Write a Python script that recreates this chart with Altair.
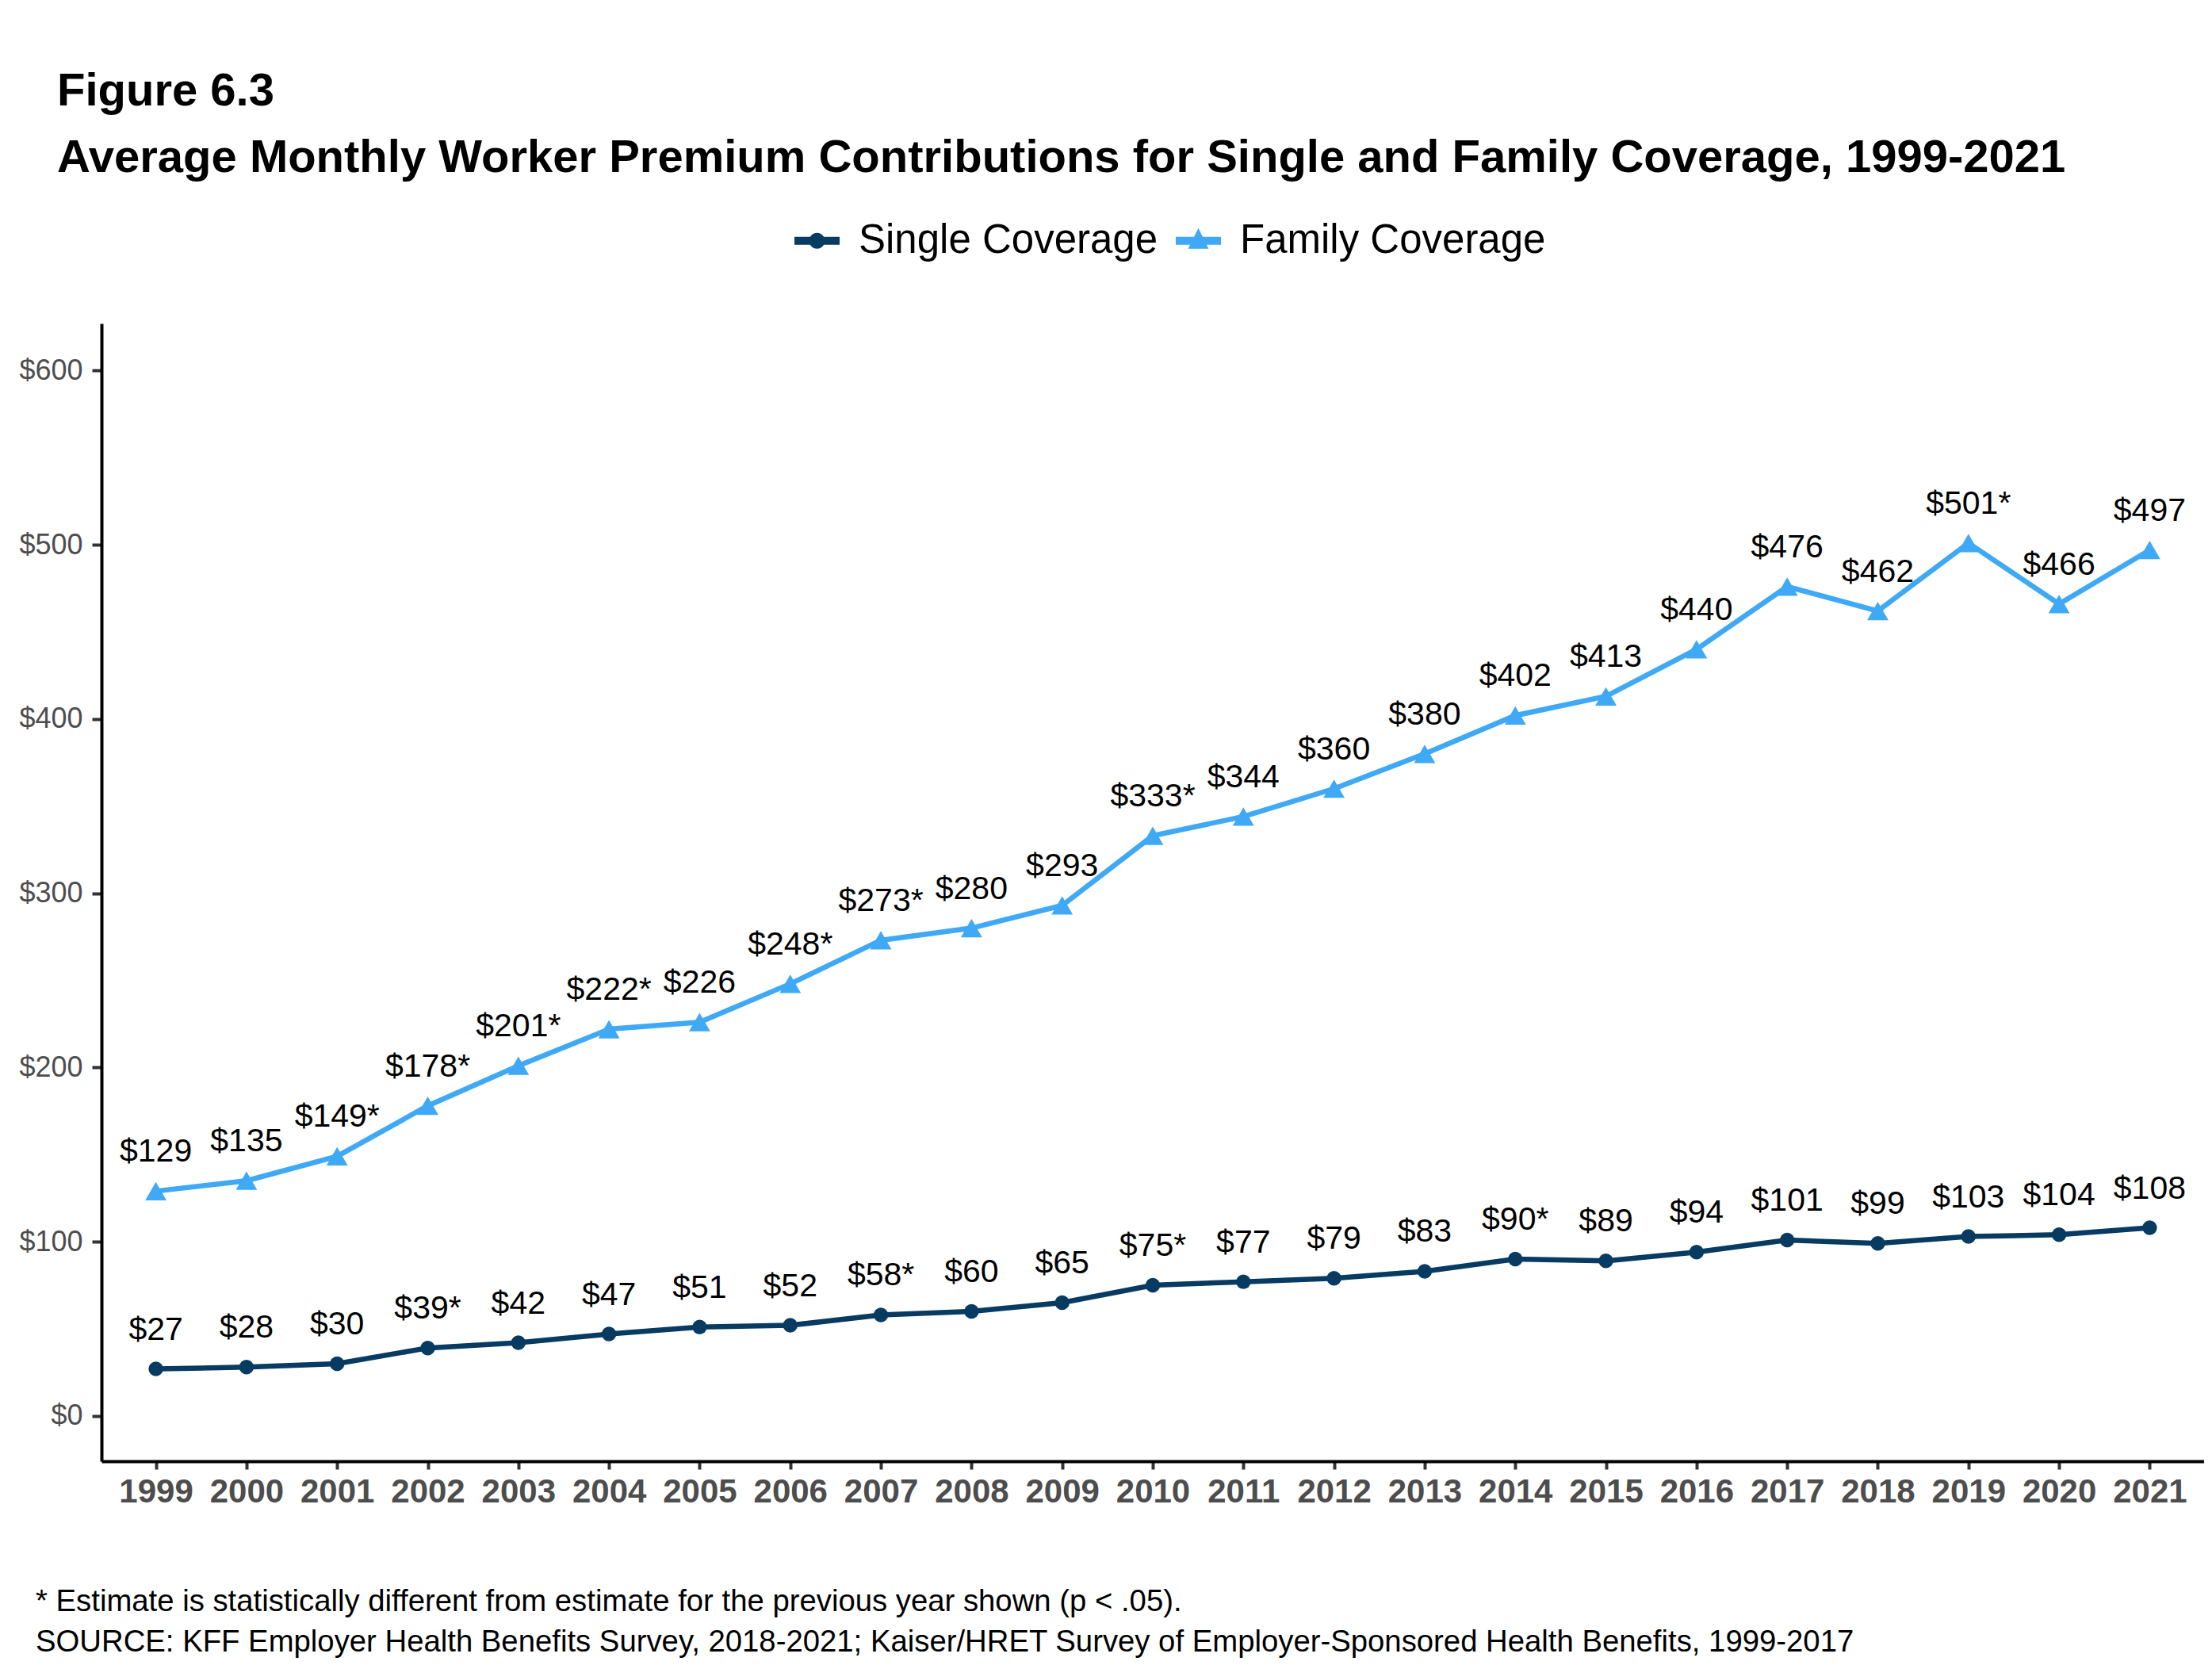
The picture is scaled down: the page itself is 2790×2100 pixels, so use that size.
import altair as alt
import pandas as pd

years = list(range(1999, 2022))
series_names = ["Single Coverage", "Family Coverage"]
colors = ["#073b62", "#3fa9f5"]

single_values = [27, 28, 30, 39, 42, 47, 51, 52, 58, 60, 65, 75, 77, 79, 83, 90, 89, 94, 101, 99, 103, 104, 108]
single_labels = ["$27", "$28", "$30", "$39*", "$42", "$47", "$51", "$52", "$58*", "$60", "$65", "$75*",
                 "$77", "$79", "$83", "$90*", "$89", "$94", "$101", "$99", "$103", "$104", "$108"]
family_values = [129, 135, 149, 178, 201, 222, 226, 248, 273, 280, 293, 333, 344, 360, 380, 402, 413,
                 440, 476, 462, 501, 466, 497]
family_labels = ["$129", "$135", "$149*", "$178*", "$201*", "$222*", "$226", "$248*", "$273*", "$280",
                 "$293", "$333*", "$344", "$360", "$380", "$402", "$413", "$440", "$476", "$462",
                 "$501*", "$466", "$497"]

y_ticks = [0, 100, 200, 300, 400, 500, 600]

title_text = "Figure 6.3"
subtitle_text = "Average Monthly Worker Premium Contributions for Single and Family Coverage, 1999-2021"
note_text = "* Estimate is statistically different from estimate for the previous year shown (p < .05)."
source_text = "SOURCE: KFF Employer Health Benefits Survey, 2018-2021; Kaiser/HRET Survey of Employer-Sponsored Health Benefits, 1999-2017"

rows = []
for y, v, l in zip(years, single_values, single_labels):
    rows.append({"year": y, "value": v, "label": l, "series": series_names[0]})
for y, v, l in zip(years, family_values, family_labels):
    rows.append({"year": y, "value": v, "label": l, "series": series_names[1]})
df = pd.DataFrame(rows)

FONT = "Liberation Sans"
W, H = 2652, 1435

x_enc = alt.X("year:Q", scale=alt.Scale(domain=[1998.4, 2021.6], nice=False, zero=False),
              axis=alt.Axis(values=years, format="d", title=None, labelFontSize=42, labelFontWeight="bold",
                            labelColor="#4d4d4d", labelFont=FONT, tickSize=10, tickWidth=4, tickColor="#333333",
                            domainColor="#000000", domainWidth=4, labelPadding=8, grid=False))
y_enc = alt.Y("value:Q", scale=alt.Scale(domain=[-26, 627], nice=False, zero=False),
              axis=alt.Axis(values=y_ticks, labelExpr="'$' + datum.value", title=None, labelFontSize=36,
                            labelColor="#4d4d4d", labelFont=FONT, tickSize=12, tickWidth=4,
                            tickColor="#333333", domainColor="#000000", domainWidth=4, labelPadding=12,
                            grid=False))

base = alt.Chart(df)
single = base.transform_filter(alt.datum.series == series_names[0])
family = base.transform_filter(alt.datum.series == series_names[1])

line_single = single.mark_line(strokeWidth=6.5, color=colors[0]).encode(x=x_enc, y=y_enc)
line_family = family.mark_line(strokeWidth=6.5, color=colors[1]).encode(x="year:Q", y="value:Q")

pts_single = single.mark_point(shape="circle", filled=True, size=340, opacity=1, color=colors[0]).encode(
    x="year:Q", y="value:Q")
pts_family = family.mark_point(shape="triangle-up", filled=True, size=720, opacity=1, color=colors[1]).encode(
    x="year:Q", y="value:Q")

labels = base.mark_text(font=FONT, fontSize=41, color="#000000", align="center", baseline="alphabetic",
                        dy=-37).encode(x="year:Q", y="value:Q", text="label:N")

# legend glyphs: horizontal bar + marker (unit box -1..1)
path_single = ("M-1,-0.175H1V0.175H-1Z "
               "M-0.351,0A0.351,0.351 0 1,1 0.351,0A0.351,0.351 0 1,1 -0.351,0Z")
path_family = ("M-1,-0.175H1V0.175H-1Z "
               "M0,-0.56L0.456,0.35L-0.456,0.35Z")

leg_props = dict(title=None, orient="none", legendX=874, legendY=-133, direction="horizontal",
                 symbolSize=3249, symbolStrokeWidth=0, symbolOpacity=1, labelFontSize=51, labelFont=FONT,
                 labelColor="#000000", labelOffset=24, columnPadding=22, padding=0, labelLimit=1000)

legend_layer = base.transform_filter(alt.datum.year == 1999).mark_point(
    filled=True, opacity=0, size=1).encode(
    x="year:Q", y="value:Q",
    fill=alt.Fill("series:N", scale=alt.Scale(domain=series_names, range=colors),
                  legend=alt.Legend(**leg_props)),
    shape=alt.Shape("series:N", scale=alt.Scale(domain=series_names, range=[path_single, path_family]),
                    legend=alt.Legend(**leg_props)),
)


def text_layer(txt, x, y, size, weight="normal"):
    return alt.Chart(pd.DataFrame({"t": [txt]})).mark_text(
        font=FONT, fontSize=size, fontWeight=weight, color="#000000", align="left",
        baseline="alphabetic").encode(text="t:N", x=alt.value(x), y=alt.value(y))


t1 = text_layer(title_text, -56, -275, 58, "bold")
t2 = text_layer(subtitle_text, -56, -191, 58, "bold")
n1 = text_layer(note_text, -83, 1624, 38.3)
n2 = text_layer(source_text, -83, 1675, 38.3)

chart = alt.layer(line_single, line_family, pts_single, pts_family, labels, legend_layer,
                  t1, t2, n1, n2).properties(
    width=W, height=H,
    autosize=alt.AutoSizeParams(type="none"),
    padding={"left": 120, "top": 400, "right": 0, "bottom": 270},
    background="white",
).configure_view(stroke=None)

chart.save("out.html", embed_options={"renderer": "svg", "actions": False})
